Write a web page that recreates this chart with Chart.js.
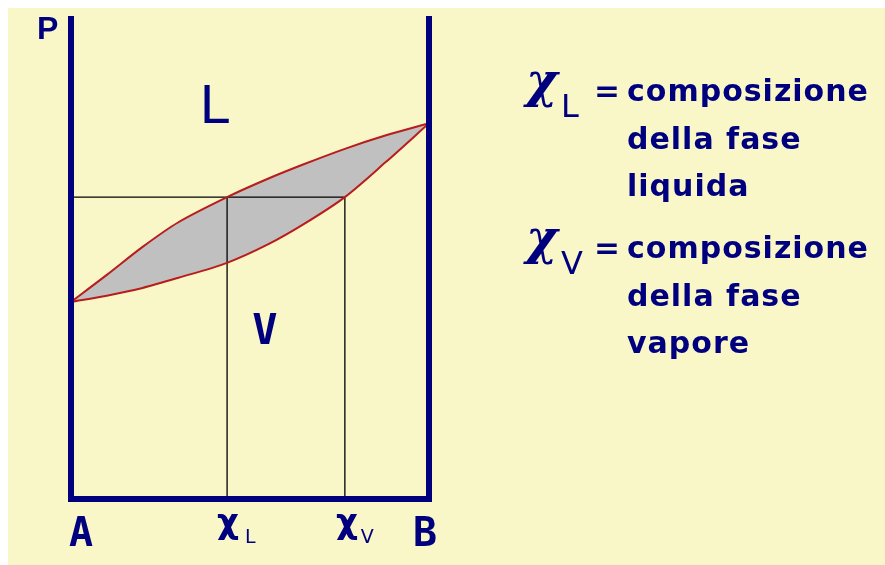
<!DOCTYPE html>
<html>
<head>
<meta charset="utf-8">
<script src="https://cdn.jsdelivr.net/npm/chart.js@4/dist/chart.umd.min.js"></script>
<style>
  html, body { margin: 0; padding: 0; background: #ffffff; }
  canvas { display: block; }
</style>
</head>
<body>
<canvas id="diagramma" width="885" height="565"></canvas>
<script>
// composizione (frazione di B) e pressione delle due curve
var composizione = [0, 0.1, 0.2, 0.3, 0.436, 0.55, 0.65, 0.765, 0.88, 1];
var curvaLiquido = [40.8, 46.4, 52.2, 57.3, 62.5, 66.3, 69.3, 72.5, 75.3, 77.8];
var curvaVapore  = [40.8, 42.1, 43.7, 45.8, 48.9, 52.7, 56.9, 62.5, 69.8, 77.8];

// linea di collegamento
var xL = 0.436;
var xV = 0.765;
var pressioneLavoro = 62.5;

var BLU = '#00007f';
var CREMA = '#f9f7c8';

function punti(xs, ys) {
  return xs.map(function (x, i) { return { x: x, y: ys[i] }; });
}

var sfondo = {
  id: 'sfondo',
  beforeDraw: function (chart) {
    var ctx = chart.ctx;
    ctx.save();
    ctx.fillStyle = '#ffffff';
    ctx.fillRect(0, 0, chart.width, chart.height);
    ctx.fillStyle = CREMA;
    ctx.fillRect(8, 8, chart.width - 8, chart.height - 8);
    ctx.restore();
  }
};

function scrivi(ctx, testo, x, y, font, align) {
  ctx.font = font;
  ctx.textAlign = align || 'left';
  ctx.fillText(testo, x, y);
}

var etichette = {
  id: 'etichette',
  afterDatasetsDraw: function (chart) {
    var ctx = chart.ctx;
    var sx = chart.scales.x;
    ctx.save();
    ctx.fillStyle = BLU;
    ctx.textBaseline = 'alphabetic';

    // asse delle pressioni e componenti puri
    scrivi(ctx, 'P', 37, 39, 'bold 32px "Liberation Sans"');
    scrivi(ctx, 'A', sx.getPixelForValue(0) + 10, 546, 'bold 40px "DejaVu Sans Mono"', 'center');
    scrivi(ctx, 'B', sx.getPixelForValue(1) - 4, 546, 'bold 40px "DejaVu Sans Mono"', 'center');

    // composizioni sull'asse x
    scrivi(ctx, 'χ', sx.getPixelForValue(xL) + 1, 533, 'bold 34px "DejaVu Sans"', 'center');
    scrivi(ctx, 'L', sx.getPixelForValue(xL) + 18, 543, '19px "DejaVu Sans"', 'left');
    scrivi(ctx, 'χ', sx.getPixelForValue(xV) + 2, 533, 'bold 34px "DejaVu Sans"', 'center');
    scrivi(ctx, 'V', sx.getPixelForValue(xV) + 16, 543, '19px "DejaVu Sans"', 'left');

    // regioni del diagramma
    scrivi(ctx, 'L', 200, 123, '55px "Liberation Sans"');
    scrivi(ctx, 'V', 265, 344, 'bold 42px "DejaVu Sans Mono"', 'center');

    // legenda a destra
    var righe = [
      ['L', 'composizione', 'della fase', 'liquida'],
      ['V', 'composizione', 'della fase', 'vapore']
    ];
    var basi = [101, 258];
    righe.forEach(function (r, i) {
      var y = basi[i];
      scrivi(ctx, 'χ', 526, y - 4, 'bold italic 48px "DejaVu Serif"');
      scrivi(ctx, r[0], 561, y + 16, '32px "DejaVu Sans"');
      ctx.letterSpacing = '1px';
      scrivi(ctx, '=', 594, y, 'bold 31px "DejaVu Sans"');
      scrivi(ctx, r[1], 627, y, 'bold 30px "DejaVu Sans"');
      scrivi(ctx, r[2], 627, y + 48, 'bold 30px "DejaVu Sans"');
      scrivi(ctx, r[3], 627, y + 95, 'bold 30px "DejaVu Sans"');
      ctx.letterSpacing = '0px';
    });
    ctx.restore();
  }
};

var config = {
  type: 'scatter',
  data: {
    datasets: [
      {
        // cornice del diagramma: asse A, asse x, asse B
        data: [{ x: 0, y: 100 }, { x: 0, y: 0 }, { x: 1, y: 0 }, { x: 1, y: 100 }],
        showLine: true,
        borderColor: BLU,
        borderWidth: 6,
        borderJoinStyle: 'miter',
        pointRadius: 0,
        fill: false,
        clip: false,
        order: 0
      },
      {
        label: 'liquido',
        data: punti(composizione, curvaLiquido),
        showLine: true,
        borderColor: '#b81c1c',
        borderWidth: 2,
        tension: 0.3,
        pointRadius: 0,
        fill: '+1',
        backgroundColor: '#c0c0c0',
        order: 1
      },
      {
        label: 'vapore',
        data: punti(composizione, curvaVapore),
        showLine: true,
        borderColor: '#b81c1c',
        borderWidth: 2,
        tension: 0.3,
        pointRadius: 0,
        fill: false,
        order: 1
      },
      {
        data: [{ x: 0, y: pressioneLavoro }, { x: xV, y: pressioneLavoro }],
        showLine: true,
        borderColor: '#000000',
        borderWidth: 1.3,
        pointRadius: 0,
        fill: false,
        order: 2
      },
      {
        data: [{ x: xL, y: pressioneLavoro }, { x: xL, y: 0 }],
        showLine: true,
        borderColor: '#000000',
        borderWidth: 1.3,
        pointRadius: 0,
        fill: false,
        order: 2
      },
      {
        data: [{ x: xV, y: pressioneLavoro }, { x: xV, y: 0 }],
        showLine: true,
        borderColor: '#000000',
        borderWidth: 1.3,
        pointRadius: 0,
        fill: false,
        order: 2
      }
    ]
  },
  options: {
    responsive: false,
    animation: false,
    devicePixelRatio: 1,
    events: [],
    layout: {
      padding: { left: 71, right: 456, top: 16, bottom: 66 }
    },
    scales: {
      x: { type: 'linear', min: 0, max: 1, display: false },
      y: { type: 'linear', min: 0, max: 100, display: false }
    },
    plugins: {
      legend: { display: false },
      tooltip: { enabled: false },
      filler: { drawTime: 'beforeDatasetsDraw' }
    }
  },
  plugins: [sfondo, etichette]
};

var chart = new Chart(document.getElementById('diagramma'), config);
</script>
</body>
</html>
